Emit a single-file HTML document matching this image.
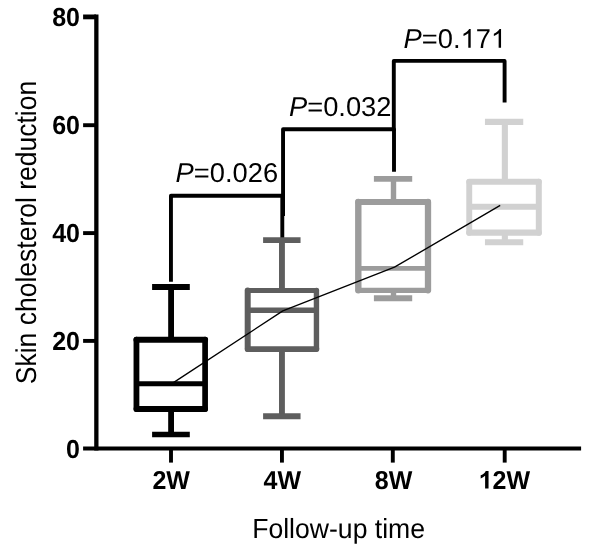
<!DOCTYPE html>
<html>
<head>
<meta charset="utf-8">
<title>Skin cholesterol reduction by follow-up time</title>
<style>
  html, body { margin: 0; padding: 0; background: #ffffff; }
  body { width: 600px; height: 547px; overflow: hidden; font-family: "Liberation Sans", sans-serif; }
  svg { display: block; will-change: transform; }
  text { font-family: "Liberation Sans", sans-serif; fill: #000; text-rendering: geometricPrecision; }
  .tick { font-weight: bold; font-size: 24px; }
  .lab { font-size: 26.6px; }
  .p { font-size: 27.3px; }
</style>
</head>
<body>
<svg width="600" height="547" viewBox="0 0 600 547">
  <rect x="0" y="0" width="600" height="547" fill="#ffffff"/>

  <!-- axes -->
  <g stroke="#000" fill="none" stroke-linecap="butt">
    <line x1="96.35" y1="14.5" x2="96.35" y2="450.6" stroke-width="4.3"/>
    <line x1="83.1" y1="448.5" x2="581.1" y2="448.5" stroke-width="4"/>
    <!-- y ticks -->
    <line x1="83.1" y1="16.9" x2="96" y2="16.9" stroke-width="4.8"/>
    <line x1="83.1" y1="125.2" x2="96" y2="125.2" stroke-width="3.9"/>
    <line x1="83.1" y1="233.1" x2="96" y2="233.1" stroke-width="3.9"/>
    <line x1="83.1" y1="340.9" x2="96" y2="340.9" stroke-width="3.9"/>
    <!-- x ticks -->
    <line x1="171" y1="448" x2="171" y2="462.6" stroke-width="3.9"/>
    <line x1="281.95" y1="448" x2="281.95" y2="462.6" stroke-width="3.9"/>
    <line x1="392.8" y1="448" x2="392.8" y2="462.6" stroke-width="3.9"/>
    <line x1="504.7" y1="448" x2="504.7" y2="462.6" stroke-width="3.9"/>
  </g>

  <!-- y tick labels -->
  <g class="tick" text-anchor="end" style="font-size:25px">
    <text transform="translate(80,26.1) scale(1,1.04)">80</text>
    <text transform="translate(80,134.1) scale(1,1.04)">60</text>
    <text transform="translate(80,242.4) scale(1,1.04)">40</text>
    <text transform="translate(80,350.2) scale(1,1.04)">20</text>
    <text transform="translate(80,458.3) scale(1,1.04)">0</text>
  </g>

  <!-- x tick labels -->
  <g class="tick" text-anchor="middle" style="font-size:25px">
    <text transform="translate(171.2,488.6) scale(1,1.03)">2W</text>
    <text transform="translate(282.3,488.6) scale(1,1.03)">4W</text>
    <text transform="translate(393.6,488.6) scale(1,1.03)">8W</text>
    <path transform="translate(478.70,488.6) scale(0.01221,-0.01204)" d="M806 0H525V1059Q371 915 162 846V1101Q272 1137 401 1237.5Q530 1338 578 1472H806Z"/>
    <text text-anchor="start" transform="translate(492.60,488.6) scale(1,1.03)">2W</text>
  </g>

  <!-- axis titles -->
  <text class="lab" text-anchor="middle" transform="translate(338.6,537.7) scale(1,1.04)">Follow-up time</text>
  <text class="lab" style="font-size:26.5px" text-anchor="middle" transform="translate(35.9,232.5) rotate(-90) scale(1,1.08)">Skin cholesterol reduction</text>

  <!-- box 2W -->
  <g stroke="#000000" fill="none">
    <line x1="171.1" y1="286.9" x2="171.1" y2="339.7" stroke-width="5.85"/>
    <line x1="171.1" y1="409.0" x2="171.1" y2="434.5" stroke-width="5.85"/>
    <line x1="152.1" y1="286.9" x2="189.8" y2="286.9" stroke-width="6.0"/>
    <line x1="152.1" y1="434.5" x2="189.8" y2="434.5" stroke-width="5.4"/>
    <g stroke-linecap="round">
      <line x1="136.45" y1="339.7" x2="136.45" y2="409.0" stroke-width="5.8"/>
      <line x1="205.1" y1="339.7" x2="205.1" y2="409.0" stroke-width="5.7"/>
      <line x1="136.45" y1="339.7" x2="205.1" y2="339.7" stroke-width="6.0"/>
      <line x1="136.45" y1="409.0" x2="205.1" y2="409.0" stroke-width="5.8"/>
    </g>
    <line x1="136.45" y1="383.7" x2="205.1" y2="383.7" stroke-width="5.0"/>
  </g>

  <!-- box 4W -->
  <g stroke="#5e5e5e" fill="none">
    <line x1="281.95" y1="240.15" x2="281.95" y2="290.5" stroke-width="5.9"/>
    <line x1="281.95" y1="349.05" x2="281.95" y2="416.3" stroke-width="5.9"/>
    <line x1="263.1" y1="240.15" x2="300.55" y2="240.15" stroke-width="5.7"/>
    <line x1="263.1" y1="416.3" x2="300.55" y2="416.3" stroke-width="6.0"/>
    <g stroke-linecap="round">
      <line x1="247.7" y1="290.5" x2="247.7" y2="349.05" stroke-width="6.0"/>
      <line x1="316.45" y1="290.5" x2="316.45" y2="349.05" stroke-width="5.4"/>
      <line x1="247.7" y1="290.5" x2="316.45" y2="290.5" stroke-width="5.2"/>
      <line x1="247.7" y1="349.05" x2="316.45" y2="349.05" stroke-width="5.7"/>
    </g>
    <line x1="247.7" y1="310.25" x2="316.45" y2="310.25" stroke-width="5.3"/>
  </g>

  <!-- box 8W -->
  <g stroke="#9c9c9c" fill="none">
    <line x1="393.5" y1="178.9" x2="393.5" y2="201.9" stroke-width="5.4"/>
    <line x1="393.5" y1="290.3" x2="393.5" y2="298.25" stroke-width="5.4"/>
    <line x1="373.9" y1="178.9" x2="412.2" y2="178.9" stroke-width="5.85"/>
    <line x1="373.9" y1="298.25" x2="412.2" y2="298.25" stroke-width="5.9"/>
    <g stroke-linecap="round">
      <line x1="358.3" y1="201.9" x2="358.3" y2="290.3" stroke-width="6.4"/>
      <line x1="428.0" y1="201.9" x2="428.0" y2="290.3" stroke-width="6.3"/>
      <line x1="358.3" y1="201.9" x2="428.0" y2="201.9" stroke-width="6.0"/>
      <line x1="358.3" y1="290.3" x2="428.0" y2="290.3" stroke-width="5.2"/>
    </g>
    <line x1="358.3" y1="268.4" x2="428.0" y2="268.4" stroke-width="4.8"/>
  </g>

  <!-- box 12W -->
  <g stroke="#d1d1d1" fill="none">
    <line x1="504.85" y1="121.9" x2="504.85" y2="181.85" stroke-width="6.1"/>
    <line x1="504.85" y1="232.7" x2="504.85" y2="242.3" stroke-width="6.1"/>
    <line x1="484.95" y1="121.9" x2="523.25" y2="121.9" stroke-width="6.1"/>
    <line x1="484.95" y1="242.3" x2="523.25" y2="242.3" stroke-width="6.1"/>
    <g stroke-linecap="round">
      <line x1="469.25" y1="181.85" x2="469.25" y2="232.7" stroke-width="5.9"/>
      <line x1="538.8" y1="181.85" x2="538.8" y2="232.7" stroke-width="6.0"/>
      <line x1="469.25" y1="181.85" x2="538.8" y2="181.85" stroke-width="6.0"/>
      <line x1="469.25" y1="232.7" x2="538.8" y2="232.7" stroke-width="6.2"/>
    </g>
    <line x1="469.25" y1="206.85" x2="538.8" y2="206.85" stroke-width="6.0"/>
  </g>

  <!-- trend line through medians -->
  <polyline points="171.5,383.9 282.8,310.9 394.5,267.2 500.2,205.4" fill="none" stroke="#000" stroke-width="1.35" stroke-linejoin="round" stroke-linecap="butt"/>

  <!-- significance brackets -->
  <g stroke="#000" stroke-width="3.9" fill="none" stroke-linejoin="round" stroke-linecap="butt">
    <path d="M170.95,281.8 V195.75 H282.3 V237.5"/>
    <path d="M283.05,216 V129.3 H394 V171.8"/>
    <path d="M393.8,131 V60.9 H504.6 V102.5"/>
  </g>

  <!-- P values -->
  <g class="p">
    <text x="175.6" y="182"><tspan font-style="italic">P</tspan>=0.026</text>
    <text x="289" y="116.1"><tspan font-style="italic">P</tspan>=0.032</text>
    <text x="403.6" y="47.8"><tspan font-style="italic">P</tspan>=0.</text>
    <path transform="translate(460.52,47.8) scale(0.01333,-0.01276)" d="M763 0H583V1147Q518 1085 412.5 1023Q307 961 223 930V1104Q374 1175 487 1276Q600 1377 647 1472H763Z"/>
    <text x="475.70" y="47.8">7</text>
    <path transform="translate(490.88,47.8) scale(0.01333,-0.01276)" d="M763 0H583V1147Q518 1085 412.5 1023Q307 961 223 930V1104Q374 1175 487 1276Q600 1377 647 1472H763Z"/>
  </g>
</svg>
</body>
</html>
